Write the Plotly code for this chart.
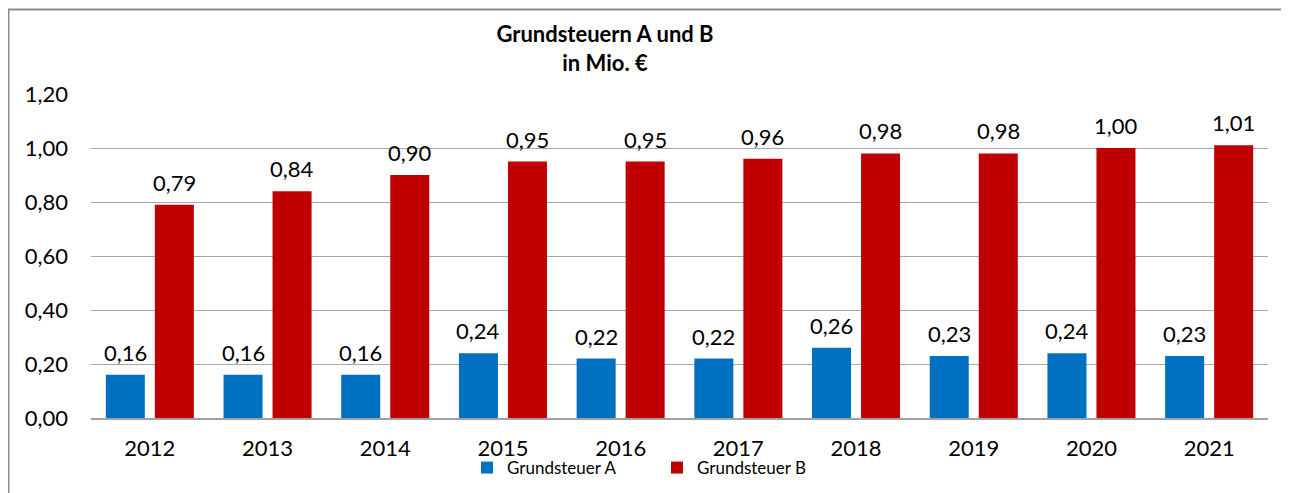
import plotly.graph_objects as go

years = ["2012", "2013", "2014", "2015", "2016", "2017", "2018", "2019", "2020", "2021"]
grundsteuer_a = [0.16, 0.16, 0.16, 0.24, 0.22, 0.22, 0.26, 0.23, 0.24, 0.23]
grundsteuer_b = [0.79, 0.84, 0.90, 0.95, 0.95, 0.96, 0.98, 0.98, 1.00, 1.01]
y_ticks = [0.0, 0.2, 0.4, 0.6, 0.8, 1.0, 1.2]
y_tick_labels = ["0,00", "0,20", "0,40", "0,60", "0,80", "1,00", "1,20"]

FONT = "Lato, 'Open Sans', sans-serif"
OFF = 8  # page body margin
W, H = 1289 - OFF, 493 - OFF
L, R, T, B = 91 - OFF, 1289 - 1268, 94 - OFF, 493 - 418
pw, ph = W - L - R, H - T - B
BARGAP = 0.167
cat_w = pw / len(years)
bar_shift = cat_w * (1 - BARGAP) / 4  # centre offset of each bar inside its group

fig = go.Figure()
fig.add_trace(go.Bar(
    x=years, y=grundsteuer_a, name="Grundsteuer A",
    marker=dict(color="#0070C0", line=dict(width=0)),
))
fig.add_trace(go.Bar(
    x=years, y=grundsteuer_b, name="Grundsteuer B",
    marker=dict(color="#C00000", line=dict(width=0)),
))

annotations = []
for vals, sign in ((grundsteuer_a, -1), (grundsteuer_b, 1)):
    for i, v in enumerate(vals):
        annotations.append(dict(
            x=i, y=v, xref="x", yref="y",  # category serial index
            text=f"{v:.2f}".replace(".", ","),
            showarrow=False, xanchor="center", yanchor="bottom",
            xshift=sign * bar_shift, yshift=7,
            font=dict(family=FONT, size=22, color="#000000"),
        ))

fig.update_layout(
    width=W, height=H,
    margin=dict(l=L, r=R, t=T, b=B),
    paper_bgcolor="white", plot_bgcolor="white",
    separators=",.",
    barmode="group", bargap=BARGAP, bargroupgap=0.204,
    font=dict(family=FONT, size=22, color="#000000"),
    title=dict(
        text="<b>Grundsteuern A und B<br>in Mio. €</b>",
        x=(605 - 91) / pw, xref="paper", xanchor="center",
        y=1 - 34 / H, yref="container", yanchor="top",
        font=dict(family=FONT, size=22, color="#000000"),
    ),
    xaxis=dict(
        type="category", range=[-0.5, len(years) - 0.5],
        showgrid=False, showline=True, linecolor="#A0A0A0", linewidth=1.5,
        ticks="", ticklabelstandoff=10, tickfont=dict(family=FONT, size=22),
        automargin=False,
    ),
    yaxis=dict(
        range=[0, 1.2], tickvals=y_ticks, ticktext=y_tick_labels,
        showgrid=True, gridcolor="#A6A6A6", gridwidth=1.2,
        zeroline=False, showline=False, ticks="",
        ticklabelstandoff=22, automargin=False,
        tickfont=dict(family=FONT, size=22),
    ),
    showlegend=True,
    legend=dict(
        orientation="h", x=(467 - 91) / pw, xanchor="left",
        yref="container", y=1 - (468 - OFF) / H, yanchor="middle",
        font=dict(family=FONT, size=17), itemwidth=30,
        entrywidth=145,
        traceorder="normal", bgcolor="rgba(0,0,0,0)",
    ),
    annotations=annotations,
    shapes=[dict(
        type="rect", xref="paper", yref="paper",
        x0=(8.5 - 91) / pw, x1=1.2, y0=-0.5, y1=(418 - 9.5) / ph,
        line=dict(color="#8C8C8C", width=2), fillcolor="rgba(0,0,0,0)",
        layer="below",
    )],
)

fig.write_html("out.html")
